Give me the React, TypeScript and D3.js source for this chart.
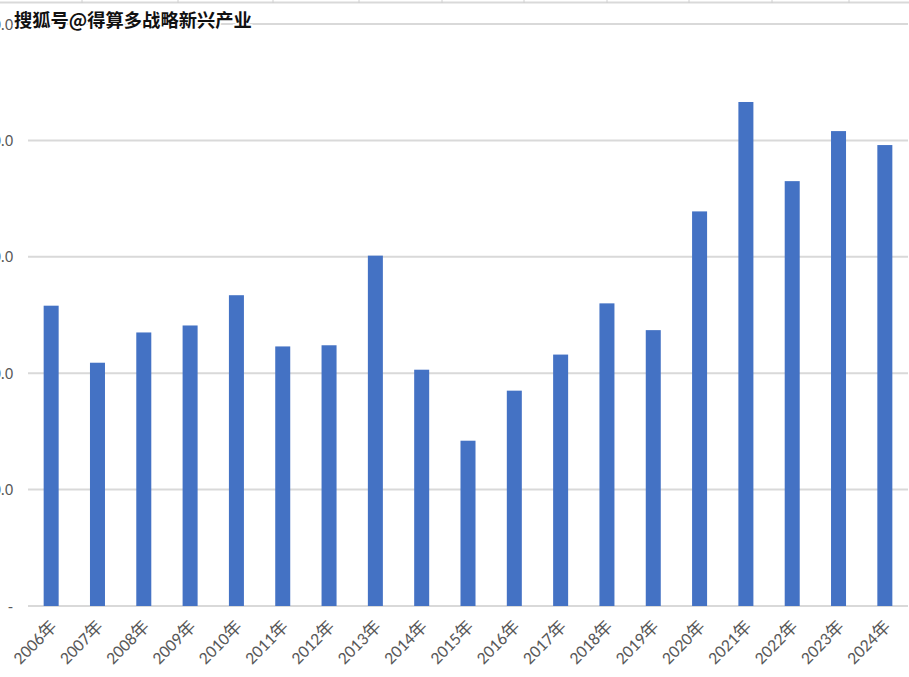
import React from "react";
import * as d3 from "d3";

const years = ["2006年","2007年","2008年","2009年","2010年","2011年","2012年","2013年","2014年","2015年","2016年","2017年","2018年","2019年","2020年","2021年","2022年","2023年","2024年"];
const values = [25.8, 20.9, 23.5, 24.1, 26.7, 22.3, 22.4, 30.1, 20.3, 14.2, 18.5, 21.6, 26.0, 23.7, 33.9, 43.3, 36.5, 40.8, 39.6];
const yTicks = [0, 10, 20, 30, 40, 50];
const yTickLabels = ["-", "10.0", "20.0", "30.0", "40.0", "50.0"];
const headerTicks = [82, 178, 273, 359, 442, 524, 607, 689, 772, 849];
const watermark = "搜狐号@得算多战略新兴产业";

const W = 909, H = 677;

export default function App() {
  const x = d3.scaleBand<string>().domain(years).range([28, 908]).paddingInner(0.676).paddingOuter(0.338);
  const y = d3.scaleLinear().domain([0, 50]).range([606, 24]);
  const font = "Calibri, Carlito, 'Liberation Sans', 'Noto Sans CJK SC', sans-serif";
  return (
    <svg width={W} height={H} style={{ position: "absolute", left: 0, top: 0, background: "#fff" }} fontFamily={font}>
      <rect x={0} y={0} width={W} height={H} fill="#fff" />
      <line x1={0} x2={W} y1={2.5} y2={2.5} stroke="#d9d9d9" strokeWidth={2} />
      {headerTicks.map((t, i) => (
        <line key={i} x1={t} x2={t} y1={0} y2={3} stroke="#d0d0d0" strokeWidth={1} />
      ))}
      {yTicks.map((t, i) => (
        <g key={i}>
          <line x1={28} x2={908} y1={y(t)} y2={y(t)} stroke="#d9d9d9" strokeWidth={2} />
          <text x={13} y={y(t)} dy="0.35em" textAnchor="end" fontSize={16} fill="#595959">{yTickLabels[i]}</text>
        </g>
      ))}
      {values.map((v, i) => (
        <rect key={i} x={x(years[i])} y={y(v)} width={x.bandwidth()} height={y(0) - y(v)} fill="#4472c4" />
      ))}
      {years.map((yr, i) => {
        const cx = (x(yr) as number) + x.bandwidth() / 2;
        return (
          <text key={i} transform={`translate(${cx - 2},${619}) rotate(-45)`} textAnchor="end" fontSize={17.5} fill="#595959" dy="0.7em">
            {yr}
          </text>
        );
      })}
      <text x={14} y={27} fontSize={18.3} fontWeight="bold" fill="#111" stroke="#fff" strokeWidth={3} paintOrder="stroke" fontFamily="'Noto Sans CJK SC', sans-serif">
        {watermark}
      </text>
    </svg>
  );
}
